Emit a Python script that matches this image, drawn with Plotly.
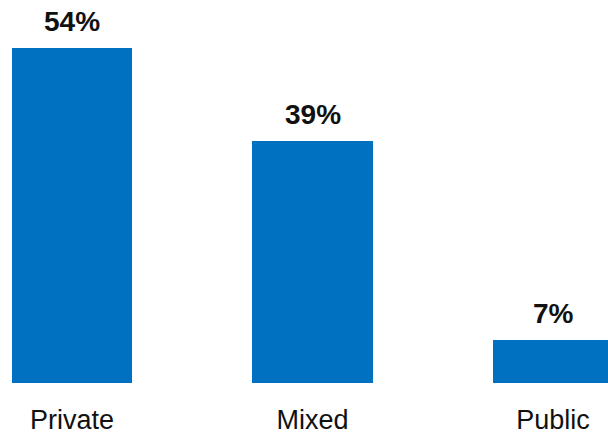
import plotly.graph_objects as go

categories = ["Private", "Mixed", "Public"]
shares = [54, 39, 7]
share_labels = ["54%", "39%", "7%"]

bar_color = "#0070C0"
font_family = "Liberation Sans, Arial, sans-serif"

x_pos = list(range(len(categories)))

fig = go.Figure(
    go.Bar(
        x=x_pos,
        y=shares,
        width=0.5,
        marker=dict(color=bar_color, line=dict(width=0)),
        hoverinfo="skip",
    )
)

# value labels above each bar
for xi, val, lab in zip(x_pos, shares, share_labels):
    fig.add_annotation(
        x=xi, y=val, text=f"<b>{lab}</b>", showarrow=False,
        xref="x", yref="y", yanchor="bottom", yshift=9,
        font=dict(family=font_family, size=28, color="#111111"),
    )

fig.update_layout(
    width=608, height=436,
    margin=dict(l=0, r=0, t=0, b=53, autoexpand=False),
    paper_bgcolor="white", plot_bgcolor="white",
    showlegend=False,
    bargap=0,
)
fig.update_xaxes(
    range=[-0.2994, 2.2287],
    tickmode="array", tickvals=x_pos, ticktext=categories,
    tickfont=dict(family=font_family, size=27, color="#111111"),
    ticklabelstandoff=18, automargin=False,
    showgrid=False, zeroline=False, showline=False, ticks="",
)
fig.update_yaxes(
    range=[0, 61.73], visible=False, showgrid=False, zeroline=False,
    automargin=False,
)

fig.write_html("out.html")
